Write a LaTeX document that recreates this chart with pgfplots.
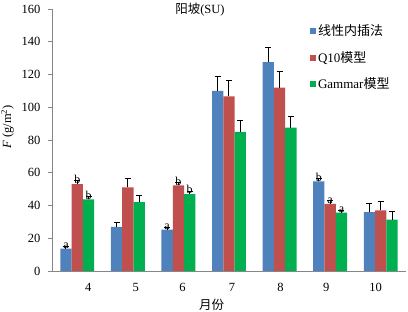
\documentclass[border=0pt]{standalone}
\usepackage{fontspec}
\setmainfont{Liberation Serif}
\newfontfamily\cjk{Noto Sans CJK SC}
\usepackage{pgfplots}
\usepackage{pgfplotstable}
\pgfplotsset{compat=1.18}
\definecolor{cblue}{HTML}{4F81BD}
\definecolor{cred}{HTML}{C0504D}
\definecolor{cgreen}{HTML}{00B050}
\definecolor{axgray}{HTML}{868686}

\pgfplotstableread{
x y err lab
4 13.7 1.5 a
5 26.9 2.7 {}
6 25.3 1.2 a
7 110 9 {}
8 127.5 9.2 {}
9 54.7 2 b
10 35.9 5.3 {}
}\tblue
\pgfplotstableread{
x y err lab
4 53.1 2 b
5 51 5.3 {}
6 52.3 2 b
7 106.7 9.8 {}
8 112 9.8 {}
9 41 2 a
10 37 5.2 {}
}\tred
\pgfplotstableread{
x y err lab
4 43.7 1.5 b
5 42 4.1 {}
6 46.9 1.5 b
7 84.9 6.9 {}
8 87.5 6.7 {}
9 35.7 1.5 a
10 31.4 4.7 {}
}\tgreen

\begin{document}
\begin{tikzpicture}
\useasboundingbox (-52pt,-41pt) rectangle (356pt,271pt);
\begin{axis}[
  at={(0,0)}, anchor=south west,
  scale only axis, width=354pt, height=262pt,
  ybar=0pt, bar width=11.3pt,
  xmin=3.5, xmax=10.5, ymin=0, ymax=160,
  xtick={4,5,6,7,8,9,10},
  xticklabels={{\hspace*{22pt}4},{\hspace*{16pt}5},{\hspace*{8pt}6},{\hspace*{6pt}7},{\hspace*{2pt}8},{9\hspace*{8pt}},{10\hspace*{10pt}}},
  ytick={0,20,...,160},
  axis x line*=bottom, axis y line*=left,
  axis line style={axgray, line width=0.8pt, -},
  y tick style={axgray, line width=0.8pt},
  x tick style={draw=none},
  tick align=outside, major tick length=4pt,
  tick label style={font=\fontsize{12.5}{14}\selectfont, black},
  xticklabel style={yshift=-5pt},
  yticklabel style={xshift=-4pt},
  /pgf/number format/assume math mode=true,
  title={\cjk 阳坡\rmfamily(SU)},
  title style={at={(axis description cs:0.418,1)}, anchor=center, yshift=-7pt, font=\fontsize{12.5}{14}\selectfont},
  ylabel={\textit{F} (g/m\textsuperscript{2})},
  ylabel style={at={(axis description cs:-0.126,0.55)}, anchor=center, font=\fontsize{12.5}{14}\selectfont},
  xlabel={\cjk 月份},
  xlabel style={at={(axis description cs:0.451,-0.13)}, anchor=center, font=\fontsize{12.5}{14}\selectfont},
  legend style={at={(axis description cs:0.72,0.955)}, anchor=north west, draw=none, fill=none,
    font=\fontsize{13}{15}\selectfont, row sep=10pt, cells={anchor=west}},
  legend image code/.code={\fill[#1] (0pt,-3pt) rectangle (6pt,3pt);},
  error bars/y dir=plus, error bars/y explicit,
  error bars/error mark=-,
  error bars/error bar style={black, line width=1pt},
  error bars/error mark options={black, line width=1pt, mark size=3pt, rotate=90},
  point meta=explicit symbolic,
  nodes near coords={\pgfplotspointmeta},
  nodes near coords style={font=\fontsize{12}{13}\selectfont, anchor=south, inner sep=0pt, black},
]
\addplot[fill=cblue, draw=none] table[x=x, y=y, y error=err, meta=lab] {\tblue};
\addplot[fill=cred, draw=none] table[x=x, y=y, y error=err, meta=lab] {\tred};
\addplot[fill=cgreen, draw=none] table[x=x, y=y, y error=err, meta=lab] {\tgreen};
\legend{{\cjk 线性内插法},{Q10\cjk 模型},{Gammar\cjk 模型}}
\end{axis}
\end{tikzpicture}
\end{document}
